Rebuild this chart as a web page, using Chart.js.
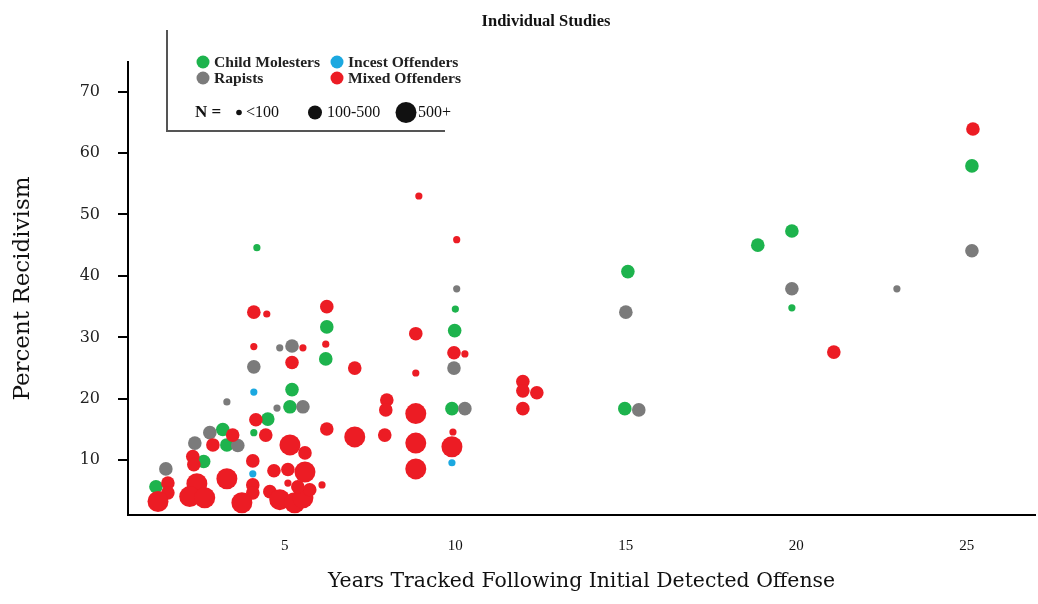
<!DOCTYPE html>
<html>
<head>
<meta charset="utf-8">
<script src="https://cdn.jsdelivr.net/npm/chart.js@4/dist/chart.umd.min.js"></script>
<style>
  html, body { margin: 0; padding: 0; background: #fff; }
  #wrap { width: 1038px; height: 604px; position: relative; }
</style>
</head>
<body>
<div id="wrap"><canvas id="c" width="1038" height="604"></canvas></div>
<script>
// ---- Data (years tracked, percent recidivism, sample-size class) ----
const chartTitle = 'Individual Studies';
const seriesNames = ['Child Molesters', 'Incest Offenders', 'Rapists', 'Mixed Offenders'];
const sizeClasses = ['<100', '100-500', '500+'];
const xTickValues = [5, 10, 15, 20, 25];
const yTickValues = [10, 20, 30, 40, 50, 60, 70];

const childX = [25.15, 19.87, 18.87, 15.06, 19.87, 14.97, 10.0, 9.98, 9.9, 4.18, 6.23, 6.2, 5.21, 5.15, 4.5, 4.09, 3.18, 3.3, 2.62, 1.22];
const childY = [57.9, 47.3, 45.0, 40.7, 34.8, 18.4, 34.6, 31.1, 18.4, 44.6, 31.7, 26.5, 21.5, 18.7, 16.7, 14.5, 15.0, 12.5, 9.8, 5.7];
const childN = ['100-500','100-500','100-500','100-500','<100','100-500','<100','100-500','100-500','<100','100-500','100-500','100-500','100-500','100-500','<100','100-500','100-500','100-500','100-500'];

const rapistX = [25.15, 22.95, 19.87, 15.0, 15.38, 10.04, 9.96, 10.28, 4.85, 5.21, 4.09, 3.3, 4.77, 5.53, 2.8, 2.36, 3.62, 1.51];
const rapistY = [44.1, 37.9, 37.9, 34.1, 18.2, 37.9, 25.0, 18.4, 28.3, 28.6, 25.2, 19.5, 18.5, 18.7, 14.5, 12.8, 12.4, 8.6];
const rapistN = ['100-500','<100','100-500','100-500','100-500','<100','100-500','100-500','<100','100-500','100-500','<100','<100','100-500','100-500','100-500','100-500','100-500'];

const incestX = [9.9, 4.09, 4.06];
const incestY = [9.6, 21.1, 7.8];
const incestN = ['<100', '<100', '<100'];

const mixedX = [25.18, 21.1, 8.93, 10.04, 8.84, 9.96, 10.28, 8.84, 7.05, 11.98, 11.98, 12.39, 11.98, 7.99, 7.96, 8.84, 9.93, 9.9, 8.84, 8.84, 7.93, 7.05, 6.23, 6.2, 4.09, 4.47, 4.09, 5.53, 5.21, 4.15, 4.44, 6.23, 3.47, 2.89, 5.15, 5.59, 2.3, 2.33, 4.06, 4.68, 5.09, 5.59, 3.3, 1.57, 1.57, 2.42, 2.21, 2.65, 1.28, 4.06, 4.06, 3.74, 4.56, 4.85, 5.29, 5.53, 5.73, 5.38, 5.09, 6.09];
const mixedY = [63.9, 27.6, 53.0, 45.9, 30.6, 27.5, 27.3, 24.2, 25.0, 22.8, 21.3, 21.0, 18.4, 19.8, 18.2, 17.6, 14.6, 12.2, 12.8, 8.6, 14.1, 13.8, 35.0, 28.9, 34.1, 33.8, 28.5, 28.3, 25.9, 16.6, 14.1, 15.1, 14.1, 12.5, 12.5, 11.2, 10.6, 9.3, 9.9, 8.3, 8.5, 8.1, 7.0, 6.3, 4.7, 6.2, 4.1, 3.9, 3.3, 6.0, 4.7, 3.1, 4.9, 3.6, 3.1, 3.9, 5.2, 5.7, 6.3, 6.0];
const mixedN = ['100-500','100-500','<100','<100','100-500','100-500','<100','<100','100-500','100-500','100-500','100-500','100-500','100-500','100-500','500+','<100','500+','500+','500+','100-500','500+','100-500','<100','100-500','<100','<100','<100','100-500','100-500','100-500','100-500','100-500','100-500','500+','100-500','100-500','100-500','100-500','100-500','100-500','500+','500+','100-500','100-500','500+','500+','500+','500+','100-500','100-500','500+','100-500','500+','500+','500+','100-500','100-500','<100','<100'];

// ---- Styles ----
const COLORS = {
  'Child Molesters': '#1db34d',
  'Incest Offenders': '#1ba8e0',
  'Rapists': '#7b7b7b',
  'Mixed Offenders': '#ec1c24'
};
const RADIUS = { '<100': 3.6, '100-500': 6.8, '500+': 10.5 };

function pts(xs, ys, ns) {
  return xs.map((x, i) => ({ x: x, y: ys[i], n: ns[i] }));
}
function ds(name, xs, ys, ns) {
  return {
    label: name,
    data: pts(xs, ys, ns),
    backgroundColor: COLORS[name],
    borderWidth: 0,
    pointRadius: ctx => RADIUS[ctx.raw ? ctx.raw.n : '100-500'],
    pointHoverRadius: ctx => RADIUS[ctx.raw ? ctx.raw.n : '100-500']
  };
}

const legendPlugin = {
  id: 'customLegend',
  afterDraw(chart) {
    const ctx = chart.ctx;
    ctx.save();
    // title
    ctx.fillStyle = '#111';
    ctx.font = 'bold 16.5px "Liberation Serif"';
    ctx.textAlign = 'center';
    ctx.textBaseline = 'middle';
    ctx.fillText(chartTitle, 546, 22);

    // box borders (left + bottom)
    ctx.strokeStyle = '#555';
    ctx.lineWidth = 2;
    ctx.beginPath();
    ctx.moveTo(167, 30);
    ctx.lineTo(167, 131);
    ctx.lineTo(445, 131);
    ctx.stroke();

    ctx.font = 'bold 15.6px "Liberation Serif"';
    ctx.textBaseline = 'middle';
    ctx.textAlign = 'left';
    const items = [
      [seriesNames[0], 203, 62],
      [seriesNames[1], 337, 62],
      [seriesNames[2], 203, 78],
      [seriesNames[3], 337, 78]
    ];
    items.forEach(([name, x, y]) => {
      ctx.fillStyle = COLORS[name];
      ctx.beginPath();
      ctx.arc(x, y, 6.5, 0, Math.PI * 2);
      ctx.fill();
      ctx.fillStyle = '#222';
      ctx.fillText(name, x + 11, y + 1);
    });

    ctx.fillStyle = '#111';
    ctx.font = 'bold 17px "Liberation Serif"';
    ctx.fillText('N =', 195, 113);
    const sz = [[sizeClasses[0], 239, 2.8, 246], [sizeClasses[1], 315, 7, 327], [sizeClasses[2], 406, 10.5, 418]];
    ctx.font = '16px "Liberation Serif"';
    sz.forEach(([lab, x, r, tx]) => {
      ctx.beginPath();
      ctx.arc(x, 112.5, r, 0, Math.PI * 2);
      ctx.fill();
      ctx.fillText(lab, tx, 113);
    });
    ctx.restore();
  }
};

new Chart(document.getElementById('c'), {
  type: 'scatter',
  data: {
    datasets: [
      ds('Mixed Offenders', mixedX, mixedY, mixedN),
      ds('Rapists', rapistX, rapistY, rapistN),
      ds('Child Molesters', childX, childY, childN),
      ds('Incest Offenders', incestX, incestY, incestN)
    ]
  },
  options: {
    responsive: false,
    animation: false,
    devicePixelRatio: 1,
    layout: { autoPadding: false, padding: { top: 62, right: 3, left: 0, bottom: 0 } },
    plugins: {
      legend: { display: false },
      tooltip: { enabled: false },
      title: { display: false }
    },
    scales: {
      x: {
        type: 'linear',
        min: 0.4,
        max: 27,
        afterBuildTicks: s => { s.ticks = xTickValues.map(v => ({ value: v })); },
        afterFit: s => { s.height = 89; s.paddingLeft = 0; s.paddingRight = 0; },
        grid: { display: false },
        border: { display: true, color: '#000', width: 2 },
        ticks: {
          color: '#111',
          font: { family: '"Liberation Serif"', size: 15 },
          padding: 14,
          maxRotation: 0
        },
        title: {
          display: true,
          text: 'Years Tracked Following Initial Detected Offense',
          color: '#111',
          font: { family: '"DejaVu Serif"', size: 20.4 },
          padding: { top: 0, bottom: 10 }
        }
      },
      y: {
        type: 'linear',
        min: 1.1,
        max: 74.8,
        afterBuildTicks: s => { s.ticks = yTickValues.map(v => ({ value: v })); },
        afterFit: s => { s.width = 128; s.paddingTop = 0; s.paddingBottom = 0; },
        grid: {
          display: true,
          drawOnChartArea: false,
          drawTicks: true,
          tickLength: 10,
          color: '#000',
          lineWidth: 2
        },
        border: { display: true, color: '#000', width: 2 },
        ticks: {
          color: '#222',
          font: { family: '"DejaVu Serif"', size: 16 },
          padding: 18
        },
        title: {
          display: true,
          text: 'Percent Recidivism',
          color: '#111',
          font: { family: '"DejaVu Serif"', size: 23 },
          padding: { top: 9, bottom: 0 }
        }
      }
    }
  },
  plugins: [legendPlugin]
});
</script>
</body>
</html>
